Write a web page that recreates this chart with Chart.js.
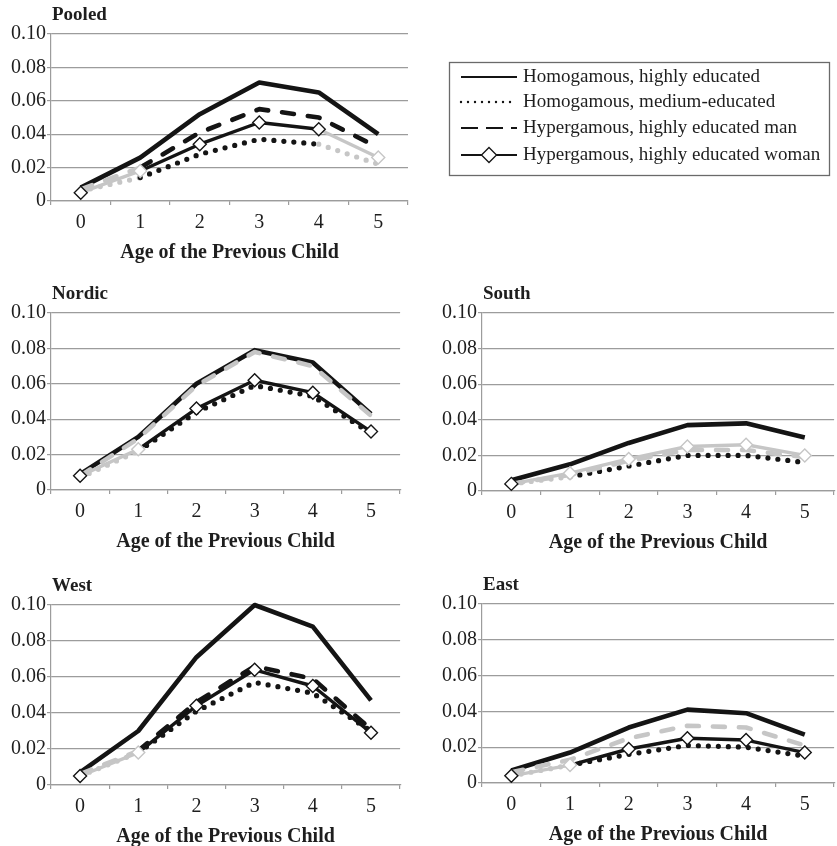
<!DOCTYPE html>
<html>
<head>
<meta charset="utf-8">
<script src="https://cdn.jsdelivr.net/npm/chart.js@4.4.1/dist/chart.umd.min.js"></script>
<style>
  body { margin: 0; background: #fff; width: 837px; height: 846px; overflow: hidden; position: relative; }
  .panel { position: absolute; }
</style>
</head>
<body>
<div class="panel" id="wrap-pooled"><canvas id="pooled"></canvas></div>
<div class="panel" id="wrap-nordic"><canvas id="nordic"></canvas></div>
<div class="panel" id="wrap-south"><canvas id="south"></canvas></div>
<div class="panel" id="wrap-west"><canvas id="west"></canvas></div>
<div class="panel" id="wrap-east"><canvas id="east"></canvas></div>
<script>
// categories
const ages = ['0', '1', '2', '3', '4', '5'];
const seriesNames = [
  'Homogamous, highly educated',
  'Homogamous, medium-educated',
  'Hypergamous, highly educated man',
  'Hypergamous, highly educated woman'
];
const yTicks = [0, 0.02, 0.04, 0.06, 0.08, 0.10];

// values (1 = black / significant, 0 = grey)
const pooledHomHigh = [0.008, 0.026, 0.052, 0.071, 0.065, 0.040];
const pooledHomMed = [0.006, 0.014, 0.028, 0.037, 0.034, 0.022];
const pooledHypMan = [0.007, 0.020, 0.041, 0.055, 0.050, 0.032];
const pooledHypWoman = [0.005, 0.018, 0.034, 0.047, 0.043, 0.026];
const pooledSigHomHigh = [1, 1, 1, 1, 1, 1];
const pooledSigHomMed = [1, 0, 1, 1, 1, 0];
const pooledSigHypMan = [1, 0, 1, 1, 1, 1];
const pooledSigHypWoman = [1, 0, 1, 1, 1, 0];

const nordicHomHigh = [0.009, 0.030, 0.060, 0.079, 0.072, 0.043];
const nordicHomMed = [0.007, 0.022, 0.044, 0.059, 0.053, 0.032];
const nordicHypMan = [0.008, 0.029, 0.059, 0.078, 0.070, 0.042];
const nordicHypWoman = [0.008, 0.023, 0.046, 0.062, 0.055, 0.033];
const nordicSigHomHigh = [1, 1, 1, 1, 1, 1];
const nordicSigHomMed = [1, 0, 1, 1, 1, 1];
const nordicSigHypMan = [1, 0, 0, 0, 0, 0];
const nordicSigHypWoman = [1, 0, 1, 1, 1, 1];

const southHomHigh = [0.006, 0.015, 0.027, 0.037, 0.038, 0.030];
const southHomMed = [0.004, 0.008, 0.014, 0.020, 0.020, 0.016];
const southHypMan = [0.004, 0.009, 0.017, 0.023, 0.023, 0.019];
const southHypWoman = [0.004, 0.010, 0.018, 0.025, 0.026, 0.020];
const southSigHomHigh = [1, 1, 1, 1, 1, 1];
const southSigHomMed = [1, 0, 1, 1, 1, 1];
const southSigHypMan = [1, 0, 0, 0, 0, 0];
const southSigHypWoman = [1, 0, 0, 0, 0, 0];

const westHomHigh = [0.007, 0.030, 0.071, 0.100, 0.088, 0.047];
const westHomMed = [0.005, 0.018, 0.041, 0.057, 0.051, 0.030];
const westHypMan = [0.006, 0.019, 0.046, 0.066, 0.059, 0.031];
const westHypWoman = [0.005, 0.018, 0.044, 0.064, 0.055, 0.029];
const westSigHomHigh = [1, 1, 1, 1, 1, 1];
const westSigHomMed = [1, 0, 1, 1, 1, 1];
const westSigHypMan = [1, 0, 1, 1, 1, 1];
const westSigHypWoman = [1, 0, 1, 1, 1, 1];

const eastHomHigh = [0.007, 0.017, 0.031, 0.041, 0.039, 0.027];
const eastHomMed = [0.004, 0.010, 0.016, 0.021, 0.020, 0.015];
const eastHypMan = [0.006, 0.013, 0.025, 0.032, 0.031, 0.021];
const eastHypWoman = [0.004, 0.010, 0.019, 0.025, 0.024, 0.017];
const eastSigHomHigh = [1, 1, 1, 1, 1, 1];
const eastSigHomMed = [1, 0, 1, 1, 1, 1];
const eastSigHypMan = [1, 0, 0, 0, 0, 0];
const eastSigHypWoman = [1, 0, 1, 1, 1, 1];

const BLACK = '#141414';
const GREY = '#c6c6c6';
const GRID = '#9c9c9c';
const TEXT = '#1e1e1e';
const FONT = '"Liberation Serif", "Times New Roman", serif';

// line look of each series
const looks = [
  { width: 4.6, dash: [], cap: 'butt', marker: false },
  { width: 5.2, dash: [0, 10], cap: 'round', marker: false },
  { width: 4.6, dash: [12, 14], cap: 'round', marker: false },
  { width: 3.4, dash: [], cap: 'butt', marker: true }
];

// panel boxes: chart area left/top/right/bottom in page pixels
const panels = [
  { id: 'pooled', title: 'Pooled', area: [51, 34, 408, 201], key: true,
    values: [pooledHomHigh, pooledHomMed, pooledHypMan, pooledHypWoman],
    sig: [pooledSigHomHigh, pooledSigHomMed, pooledSigHypMan, pooledSigHypWoman] },
  { id: 'nordic', title: 'Nordic', area: [51, 313, 408, 490],
    values: [nordicHomHigh, nordicHomMed, nordicHypMan, nordicHypWoman],
    sig: [nordicSigHomHigh, nordicSigHomMed, nordicSigHypMan, nordicSigHypWoman] },
  { id: 'south', title: 'South', area: [482, 313, 842, 491],
    values: [southHomHigh, southHomMed, southHypMan, southHypWoman],
    sig: [southSigHomHigh, southSigHomMed, southSigHypMan, southSigHypWoman] },
  { id: 'west', title: 'West', area: [51, 605, 408, 785],
    values: [westHomHigh, westHomMed, westHypMan, westHypWoman],
    sig: [westSigHomHigh, westSigHomMed, westSigHypMan, westSigHypWoman] },
  { id: 'east', title: 'East', area: [482, 604, 842, 783],
    values: [eastHomHigh, eastHomMed, eastHypMan, eastHypWoman],
    sig: [eastSigHomHigh, eastSigHomMed, eastSigHypMan, eastSigHypWoman] }
];

const Y_AXIS_W = 51;
const TOP_PAD = 34;
const X_AXIS_H = 66;
const KEY_RIGHT = 429;

// panel title drawn above the plot area, left aligned to the y axis
const panelTitle = {
  id: 'panelTitle',
  afterDraw(chart, args, opts) {
    const ctx = chart.ctx;
    ctx.save();
    ctx.font = 'bold 19px ' + FONT;
    ctx.fillStyle = TEXT;
    ctx.textBaseline = 'middle';
    ctx.textAlign = 'left';
    ctx.fillText(opts.text, chart.chartArea.left + 1, chart.chartArea.top - 19);
    ctx.restore();
  }
};

// boxed key to the right of the pooled panel
const seriesKey = {
  id: 'seriesKey',
  afterDraw(chart, args, opts) {
    if (!opts.show) return;
    const ctx = chart.ctx;
    const bx = 449, by = 62, bw = 380, bh = 113;
    const rows = [77, 102, 128, 155];
    ctx.save();
    ctx.strokeStyle = '#6a6a6a';
    ctx.lineWidth = 1.3;
    ctx.strokeRect(bx + 0.5, by + 0.5, bw, bh);
    chart.data.datasets.forEach((ds, i) => {
      const y = rows[i];
      ctx.strokeStyle = BLACK;
      ctx.lineWidth = i === 1 ? 2.4 : 2.2;
      ctx.lineCap = i === 1 ? 'round' : 'butt';
      ctx.setLineDash(i === 1 ? [0, 7] : i === 2 ? [17, 8] : []);
      ctx.beginPath();
      ctx.moveTo(461, y);
      ctx.lineTo(517, y);
      ctx.stroke();
      ctx.setLineDash([]);
      if (i === 3) {
        const r = 7.5;
        ctx.beginPath();
        ctx.moveTo(489, y - r);
        ctx.lineTo(489 + r, y);
        ctx.lineTo(489, y + r);
        ctx.lineTo(489 - r, y);
        ctx.closePath();
        ctx.fillStyle = '#fff';
        ctx.fill();
        ctx.lineWidth = 1.3;
        ctx.stroke();
      }
      ctx.font = '19px ' + FONT;
      ctx.fillStyle = TEXT;
      ctx.textBaseline = 'middle';
      ctx.fillText(ds.label, 523, y);
    });
    ctx.restore();
  }
};

function buildPanel(p) {
  const [L, T, R, B] = p.area;
  const left = L - Y_AXIS_W;
  const top = T - TOP_PAD;
  const padRight = p.key ? KEY_RIGHT : 0;
  const wrap = document.getElementById('wrap-' + p.id);
  wrap.style.left = left + 'px';
  wrap.style.top = top + 'px';
  wrap.style.width = (R - left + padRight) + 'px';
  wrap.style.height = (B - top + X_AXIS_H) + 'px';

  const datasets = seriesNames.map((name, i) => {
    const look = looks[i];
    const sig = p.sig[i];
    return {
      label: name,
      data: p.values[i],
      order: 4 - i,
      borderColor: BLACK,
      borderWidth: look.width,
      borderDash: look.dash,
      borderCapStyle: look.cap,
      borderJoinStyle: 'round',
      tension: 0,
      fill: false,
      clip: false,
      segment: {
        borderColor: c => (sig[c.p1DataIndex] ? BLACK : GREY)
      },
      pointStyle: 'rectRot',
      pointRadius: look.marker ? 6.5 : 0,
      pointBackgroundColor: '#ffffff',
      pointBorderColor: sig.map(s => (s ? BLACK : GREY)),
      pointBorderWidth: 1.4
    };
  });

  new Chart(document.getElementById(p.id), {
    type: 'line',
    data: { labels: ages, datasets },
    options: {
      responsive: true,
      maintainAspectRatio: false,
      animation: false,
      events: [],
      layout: { padding: { top: TOP_PAD, right: padRight, left: 0, bottom: 0 } },
      plugins: {
        legend: { display: false },
        tooltip: { enabled: false },
        panelTitle: { text: p.title },
        seriesKey: { show: !!p.key }
      },
      scales: {
        x: {
          offset: true,
          grid: { offset: true, drawOnChartArea: false, drawTicks: true, tickLength: 4, color: GRID, lineWidth: 1.2 },
          border: { color: GRID, width: 1.2 },
          ticks: { color: TEXT, font: { family: FONT, size: 20 }, padding: 6 },
          title: {
            display: true,
            text: 'Age of the Previous Child',
            color: TEXT,
            font: { family: FONT, size: 20, weight: 'bold' },
            padding: { top: 0, bottom: 2 }
          },
          afterFit: s => { s.height = X_AXIS_H; }
        },
        y: {
          min: 0,
          max: 0.1,
          afterBuildTicks: s => { s.ticks = yTicks.map(v => ({ value: v })); },
          grid: { color: GRID, lineWidth: 1.2, tickLength: 4 },
          border: { color: GRID, width: 1.2 },
          ticks: {
            color: TEXT,
            font: { family: FONT, size: 20 },
            padding: 1,
            callback: v => (v === 0 ? '0' : v.toFixed(2))
          },
          afterFit: s => { s.width = Y_AXIS_W; }
        }
      }
    },
    plugins: [panelTitle, seriesKey]
  });
}

panels.forEach(buildPanel);
</script>
</body>
</html>
